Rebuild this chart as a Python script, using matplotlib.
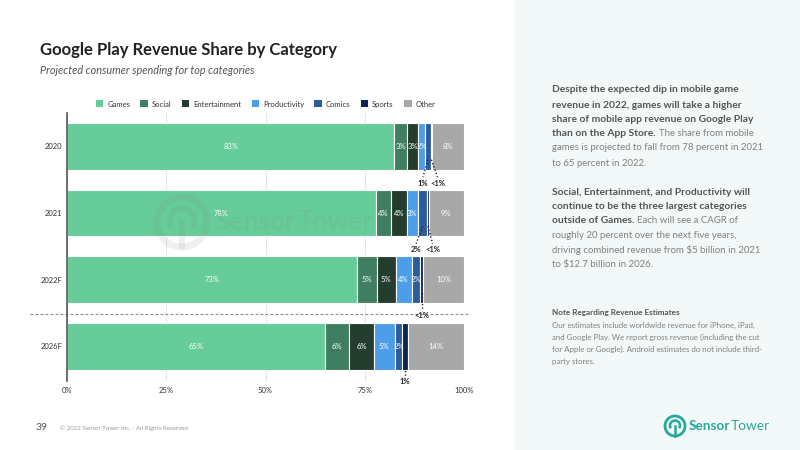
import numpy as np
import matplotlib
matplotlib.use("Agg")
import matplotlib.pyplot as plt
from matplotlib.patches import Rectangle, Arc, Patch
from matplotlib.lines import Line2D

plt.rcParams['font.family'] = ['Lato', 'DejaVu Sans']

# Data
years = ['2020', '2021', '2022F', '2026F']
categories = ['Games', 'Social', 'Entertainment', 'Productivity', 'Comics', 'Sports', 'Other']
shares = {
    'Games':         [82.4, 77.8, 73.0, 65.0],
    'Social':        [3.3, 3.8, 5.0, 6.0],
    'Entertainment': [2.7, 4.0, 4.8, 6.3],
    'Productivity':  [1.9, 2.8, 4.0, 5.2],
    'Comics':        [1.3, 2.3, 2.2, 2.0],
    'Sports':        [0.4, 0.4, 0.7, 1.4],
    'Other':         [8.0, 8.9, 10.3, 14.1],
}
# label shown inside each segment ('' = none / shown outside)
labels = {
    'Games':         ['83%', '78%', '73%', '65%'],
    'Social':        ['3%', '4%', '5%', '6%'],
    'Entertainment': ['3%', '4%', '5%', '6%'],
    'Productivity':  ['2%', '3%', '4%', '5%'],
    'Comics':        ['', '', '2%', '2%'],
    'Sports':        ['', '', '', ''],
    'Other':         ['8%', '9%', '10%', '14%'],
}
# small segments labelled below the bar: (year index, category, text, x offset, label y)
callouts = [
    (0, 'Comics', '1%', -1.3, 0.55),
    (0, 'Sports', '<1%', 1.5, 0.55),
    (1, 'Comics', '2%', -1.6, 1.55),
    (1, 'Sports', '<1%', 1.2, 1.55),
    (2, 'Sports', '<1%', 0.0, 2.54),
    (3, 'Sports', '1%', 0.0, 3.53),
]
colors = ['#66cc99', '#3f7f5f', '#243d2f', '#4d9ee8', '#2d5c9e', '#0d2552', '#a8a8a8']

W, H = 800, 450
fig = plt.figure(figsize=(8, 4.5), dpi=100)
fig.patch.set_facecolor('white')
renderer = fig.canvas.get_renderer()


def fx(px):
    return px / W


def fy(py):
    return 1 - py / H


def draw_logo(cx, cy, r, color, alpha, size, zorder):
    # ring + inner arc + stem, then "Sensor" (bold) "Tower"
    kw = dict(transform=fig.transFigure, color=color, alpha=alpha, zorder=zorder)
    lw = r * 0.2
    fig.patches.append(Arc((fx(cx), fy(cy)), 2 * r / W, 2 * r / H, lw=lw, fill=False,
                           transform=fig.transFigure, ec=color, alpha=alpha, zorder=zorder))
    fig.patches.append(Arc((fx(cx), fy(cy - r * 0.05)), 1.0 * r / W, 1.0 * r / H,
                           theta1=-50, theta2=230, lw=lw * 0.9, fill=False,
                           transform=fig.transFigure, ec=color, alpha=alpha, zorder=zorder))
    fig.lines.append(Line2D([fx(cx), fx(cx)], [fy(cy), fy(cy + r * 0.95)], lw=lw * 0.9, **kw))
    t = fig.text(fx(cx + r * 1.35), fy(cy), 'Sensor', fontsize=size, fontweight='bold',
                 color=color, alpha=alpha, va='center', zorder=zorder)
    x1 = t.get_window_extent(renderer).x1
    fig.text(fx(x1 + size * 0.1), fy(cy), 'Tower', fontsize=size, color=color,
             alpha=alpha, va='center', zorder=zorder)


# right side panel
fig.patches.append(Rectangle((fx(515), 0), 285 / W, 1, transform=fig.transFigure,
                             facecolor='#f3f9f8', edgecolor='none', zorder=0))

ax = fig.add_axes([fx(67), fy(381), 397 / W, 268 / H])
ax.set_facecolor('none')

y = np.arange(len(years))
left = np.zeros(len(years))
centers = {}
for cat, col in zip(categories, colors):
    vals = np.array(shares[cat])
    ax.barh(y, vals, left=left, height=0.7, color=col, edgecolor='white',
            linewidth=0.8, zorder=2)
    centers[cat] = left + vals / 2
    for i, lab in enumerate(labels[cat]):
        if lab:
            ax.text(centers[cat][i], y[i], lab, ha='center', va='center',
                    color='white', fontsize=5.5, zorder=4)
    left += vals

for i, cat, txt, dx, ly in callouts:
    cx = centers[cat][i]
    ax.plot([cx, cx + dx], [y[i] + 0.2, ly - 0.09], color='#222222', lw=1,
            ls=(0, (1, 1.5)), zorder=3, clip_on=False)
    ax.text(cx + dx, ly, txt, ha='center', va='center', fontsize=5.5,
            fontweight='bold', color='#222222', zorder=4, clip_on=False)

# dashed separator between actual and forecast
ax.plot([-9.3, 101.5], [2.52, 2.52], color='#888888', lw=0.8, ls=(0, (2.5, 2)),
        clip_on=False, zorder=1)

ax.set_xlim(0, 100)
ax.set_ylim(3.52, -0.5)
ax.set_xticks([0, 25, 50, 75, 100])
ax.set_xticklabels(['0%', '25%', '50%', '75%', '100%'], fontsize=5.5, color='#333333')
ax.set_yticks(y)
ax.set_yticklabels(years, fontsize=5.5, color='#333333')
ax.tick_params(axis='x', length=0, pad=4)
ax.tick_params(axis='y', length=0, pad=3.5)
ax.xaxis.grid(True, color='#cccccc', ls=(0, (1, 1)), lw=0.8, zorder=0)
ax.set_axisbelow(True)
for s in ['top', 'right', 'bottom']:
    ax.spines[s].set_visible(False)
ax.spines['left'].set_color('#555555')
ax.spines['left'].set_linewidth(1.2)

# faint watermark over the chart
draw_logo(182, 222, 25, '#8a8a8a', 0.12, 19, 5)

handles = [Patch(facecolor=c, edgecolor='none') for c in colors]
fig.legend(handles, categories, loc='center', bbox_to_anchor=(fx(265.5), fy(104)),
           ncol=7, frameon=False, fontsize=5.5, handlelength=1.0, handleheight=1.0,
           handletextpad=0.5, columnspacing=1.35, labelcolor='#333333')

# title and subtitle
fig.text(fx(40), fy(50), 'Google Play Revenue Share by Category', fontsize=12,
         fontweight='bold', color='#222222', va='center')
fig.text(fx(40), fy(71), 'Projected consumer spending for top categories',
         fontsize=7.85, style='italic', color='#555555', va='center')

# right side text
bold_c = '#555555'
reg_c = '#808080'
para = [
    (90, 'Despite the expected dip in mobile game', ''),
    (105, 'revenue in 2022, games will take a higher', ''),
    (119, 'share of mobile app revenue on Google Play', ''),
    (134, 'than on the App Store.', 'The share from mobile'),
    (148, '', 'games is projected to fall from 78 percent in 2021'),
    (163, '', 'to 65 percent in 2022.'),
    (192, 'Social, Entertainment, and Productivity will', ''),
    (206, 'continue to be the three largest categories', ''),
    (221, 'outside of Games.', 'Each will see a CAGR of'),
    (235, '', 'roughly 20 percent over the next five years,'),
    (250, '', r'driving combined revenue from \$5 billion in 2021'),
    (264, '', r'to \$12.7 billion in 2026.'),
]
x0 = 552
for py, btxt, rtxt in para:
    x = x0
    if btxt:
        t = fig.text(fx(x), fy(py), btxt, fontsize=7.4, fontweight='bold',
                     color=bold_c, va='center')
        x = t.get_window_extent(renderer).x1 + 3
    if rtxt:
        fig.text(fx(x), fy(py), rtxt, fontsize=6.95, color=reg_c, va='center')

fig.text(fx(x0), fy(313), 'Note Regarding Revenue Estimates', fontsize=5.85,
         fontweight='bold', color=bold_c, va='center')
note = ['Our estimates include worldwide revenue for iPhone, iPad,',
        'and Google Play. We report gross revenue (including the cut',
        'for Apple or Google). Android estimates do not include third-',
        'party stores.']
for k, line in enumerate(note):
    fig.text(fx(x0), fy(325 + 12.3 * k), line, fontsize=5.7, color=reg_c, va='center')

# footer
fig.text(fx(36), fy(427), '39', fontsize=7.5, color='#555555', va='center')
fig.text(fx(60), fy(428), '\u00a9 2022 Sensor Tower Inc. - All Rights Reserved',
         fontsize=4.4, color='#999999', va='center')

# logo
draw_logo(675, 426, 10, '#25a99a', 1.0, 9.8, 3)

fig.savefig('out.png', dpi=100)
